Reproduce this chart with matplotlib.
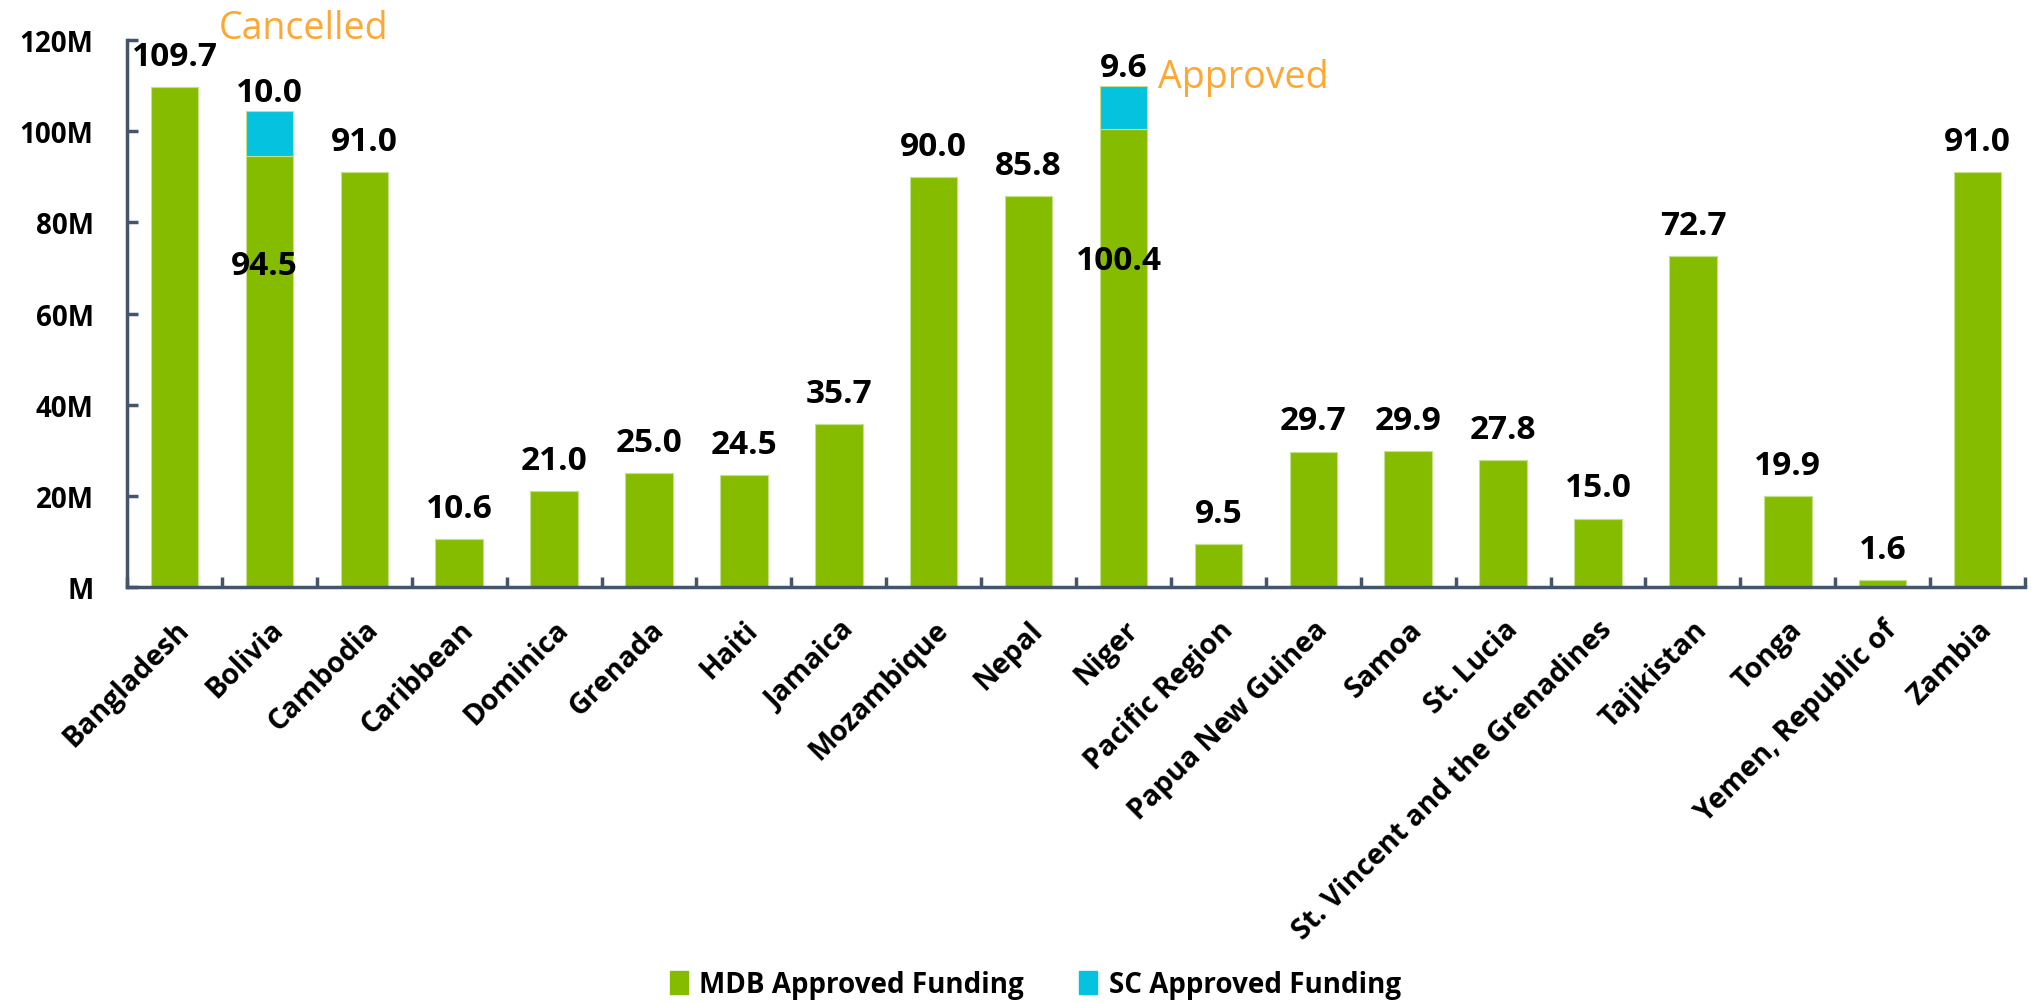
import matplotlib
matplotlib.use("Agg")
import matplotlib.pyplot as plt
from matplotlib.ticker import FuncFormatter, FixedLocator
from matplotlib.patches import Patch

plt.rcParams['font.family'] = ['Open Sans', 'DejaVu Sans']

# data (millions)
countries = ['Bangladesh', 'Bolivia', 'Cambodia', 'Caribbean', 'Dominica', 'Grenada',
             'Haiti', 'Jamaica', 'Mozambique', 'Nepal', 'Niger', 'Pacific Region',
             'Papua New Guinea', 'Samoa', 'St. Lucia', 'St. Vincent and the Grenadines',
             'Tajikistan', 'Tonga', 'Yemen, Republic of', 'Zambia']
mdb = [109.7, 94.5, 91.0, 10.6, 21.0, 25.0, 24.5, 35.7, 90.0, 85.8,
       100.4, 9.5, 29.7, 29.9, 27.8, 15.0, 72.7, 19.9, 1.6, 91.0]
sc = [0, 10.0, 0, 0, 0, 0, 0, 0, 0, 0,
      9.6, 0, 0, 0, 0, 0, 0, 0, 0, 0]
# baseline of the green label on the stacked bars
inside_label_y = {1: 68.7, 10: 69.8}

green = '#86BC00'
cyan = '#05C3DE'
axis_col = '#44546A'
orange = '#FFA733'

fig = plt.figure(figsize=(20.42, 10.04), dpi=100)
ax = fig.add_axes([0.0622, 0.4143, 0.9295, 0.5447])

x = list(range(len(countries)))
ax.bar(x, mdb, width=0.5, color=green, edgecolor='#C5E08A', linewidth=0.8)
ax.bar(x, sc, width=0.5, bottom=mdb, color=cyan, edgecolor='#C5E08A', linewidth=0.8)

for i in x:
    if sc[i] > 0:
        ax.annotate(f'{sc[i]:.1f}', (i, mdb[i] + sc[i]), xytext=(0, 7),
                    textcoords='offset points', ha='center', va='baseline',
                    fontsize=24, fontweight='bold')
        ax.text(i - 0.05, inside_label_y[i], f'{mdb[i]:.1f}', ha='center', va='baseline',
                fontsize=24, fontweight='bold')
    else:
        ax.annotate(f'{mdb[i]:.1f}', (i, mdb[i]), xytext=(0, 16),
                    textcoords='offset points', ha='center', va='baseline',
                    fontsize=24, fontweight='bold')

ax.text(1.365, 120.4, 'Cancelled', color=orange, fontsize=27, ha='center', va='baseline')
ax.text(11.26, 109.7, 'Approved', color=orange, fontsize=27, ha='center', va='baseline')

ax.set_xlim(-0.5, len(countries) - 0.5)
ax.set_ylim(0, 120)
ax.set_yticks(range(0, 121, 20))
ax.yaxis.set_major_formatter(FuncFormatter(lambda v, p: f'{int(v)}M' if v else 'M'))

ax.set_xticks(x)
ax.set_xticklabels(countries, rotation=45, ha='right', rotation_mode='anchor',
                   fontsize=20.5, fontweight='bold')
ax.xaxis.set_minor_locator(FixedLocator([i - 0.5 for i in range(len(countries) + 1)]))
ax.tick_params(axis='x', which='major', length=0, pad=20)
ax.tick_params(axis='x', which='minor', direction='in', length=7, width=2.5, color=axis_col)
ax.tick_params(axis='y', direction='in', length=8, width=2.5, color=axis_col,
               labelsize=20, pad=24)
for lab in ax.get_yticklabels():
    lab.set_fontweight('bold')

for s in ['top', 'right']:
    ax.spines[s].set_visible(False)
for s in ['left', 'bottom']:
    ax.spines[s].set_color(axis_col)
    ax.spines[s].set_linewidth(2.5)

handles = [Patch(color=green, label='MDB Approved Funding'),
           Patch(color=cyan, label='SC Approved Funding')]
fig.legend(handles=handles, loc='center', bbox_to_anchor=(0.507, 0.018), ncol=2,
           frameon=False, handlelength=0.65, handleheight=0.9, handletextpad=0.4,
           columnspacing=2.0, prop={'weight': 'bold', 'size': 20})

fig.savefig('out.png', dpi=100)
